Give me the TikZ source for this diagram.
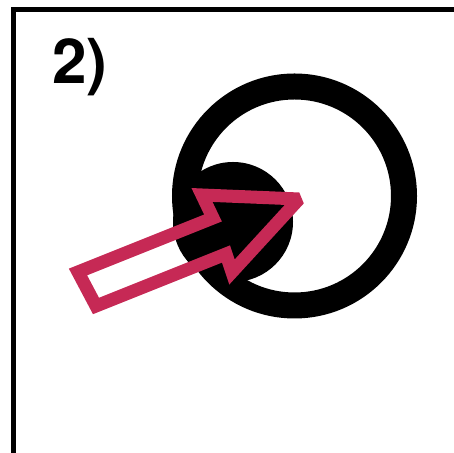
\documentclass[tikz,border=0pt]{standalone}
\usepackage{fontspec}
\setmainfont{TeX Gyre Heros}
\usetikzlibrary{calc}

\definecolor{arrowred}{RGB}{198,41,85}

\begin{document}
\begin{tikzpicture}[x=0.5pt,y=0.5pt, line join=miter]

% ---------- styles ----------
\tikzset{
  frame/.style={draw, line width=2.5pt},
  ring/.style={draw, line width=13pt},
  disc/.style={fill=black},
  bigarrow/.style={draw=arrowred, line width=6.5pt, line join=miter, miter limit=2},
  panel/.style={font=\bfseries\fontsize{31}{31}\selectfont, inner sep=0pt, anchor=west},
}

\useasboundingbox (0,0) rectangle (454,453);

% ---------- canvas coordinates ----------
\coordinate (Fsw) at (13,-5);
\coordinate (Fnw) at (13,443);
\coordinate (Fne) at (460,443);

\coordinate (Ring) at (294.5,257);
\coordinate (Disc) at (233,231);

% arrow outline (tail, shaft, head, tip)
\coordinate (TailT) at (78,181);
\coordinate (TailB) at (96,147);
\coordinate (NeckB) at (226,199);
\coordinate (HeadB) at (232,181);
\coordinate (Tip)   at (299,254);
\coordinate (HeadT) at (202,258);
\coordinate (NeckT) at (213,235);

% ---------- outer frame (left and top only) ----------
\draw[frame] (Fsw) -- (Fnw) -- (Fne);

% panel label
\node[panel] (lbl) at (52,386) {2)};

% ---------- circles ----------
\draw[ring] (Ring) circle[radius=109.5];
\fill[disc] (Disc) circle[radius=60];

% ---------- hollow arrow ----------
\draw[bigarrow] (TailT) -- (TailB) -- (NeckB) -- (HeadB) -- (Tip)
  -- (HeadT) -- (NeckT) -- cycle;

\end{tikzpicture}
\end{document}
